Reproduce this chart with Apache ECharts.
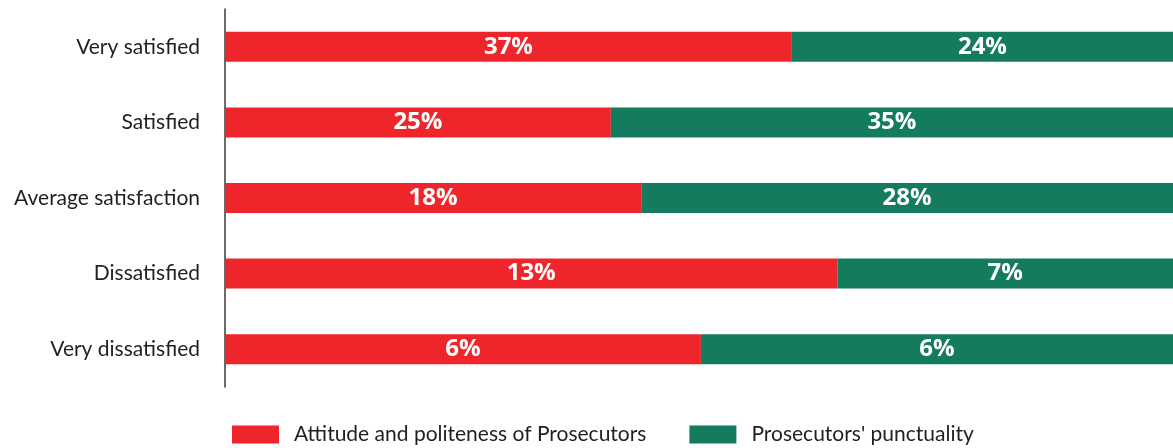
<!DOCTYPE html>
<html>
<head>
<meta charset="utf-8">
<script src="https://cdn.jsdelivr.net/npm/echarts@6/dist/echarts.min.js"></script>
<style>
  html, body { margin: 0; padding: 0; background: #fff; }
  #chart { width: 1173px; height: 448px; }
</style>
</head>
<body>
<div id="chart"></div>
<script>
// rows, top to bottom
const categories = ['Very satisfied', 'Satisfied', 'Average satisfaction', 'Dissatisfied', 'Very dissatisfied']
const seriesNames = ['Attitude and politeness of Prosecutors', "Prosecutors' punctuality"]

// printed percentages
const attitudeLabels = [37, 25, 18, 13, 6]
const punctualityLabels = [24, 35, 28, 7, 6]

// segment shares of each full-width bar, as drawn
const attitudeShare = [59.8, 40.7, 43.9, 64.6, 50.2]
const punctualityShare = [40.2, 59.3, 56.1, 35.4, 49.8]

const font = 'Lato'

var chart = echarts.init(document.getElementById('chart'))

function barSeries(name, share, labels, color) {
  return {
    name: name,
    type: 'bar',
    stack: 'total',
    barWidth: 30,
    data: share,
    itemStyle: { color: color },
    label: {
      show: true,
      position: 'inside',
      color: '#fff',
      fontFamily: 'Open Sans',
      fontWeight: 'bold',
      fontSize: 24,
      formatter: function(p) { return labels[p.dataIndex] + '%' }
    },
    emphasis: { disabled: true }
  }
}

chart.setOption({
  animation: false,
  grid: { left: 225, right: 0, top: 9, bottom: 61, containLabel: false },
  xAxis: {
    type: 'value',
    min: 0,
    max: 100,
    show: false
  },
  yAxis: {
    type: 'category',
    inverse: true,
    data: categories,
    axisLine: { show: true, lineStyle: { color: '#3a3a3a', width: 1.5 } },
    axisTick: { show: false },
    axisLabel: {
      color: '#231f20',
      fontFamily: font,
      fontSize: 21,
      margin: 25
    }
  },
  legend: {
    top: 419,
    left: 227,
    itemWidth: 47,
    itemHeight: 18,
    itemGap: 43,
    icon: 'rect',
    textStyle: {
      color: '#231f20',
      fontFamily: font,
      fontSize: 21,
      padding: [0, 0, 0, 10]
    },
    data: seriesNames
  },
  series: [
    barSeries(seriesNames[0], attitudeShare, attitudeLabels, '#ee262c'),
    barSeries(seriesNames[1], punctualityShare, punctualityLabels, '#147b5f')
  ]
})
</script>
</body>
</html>
